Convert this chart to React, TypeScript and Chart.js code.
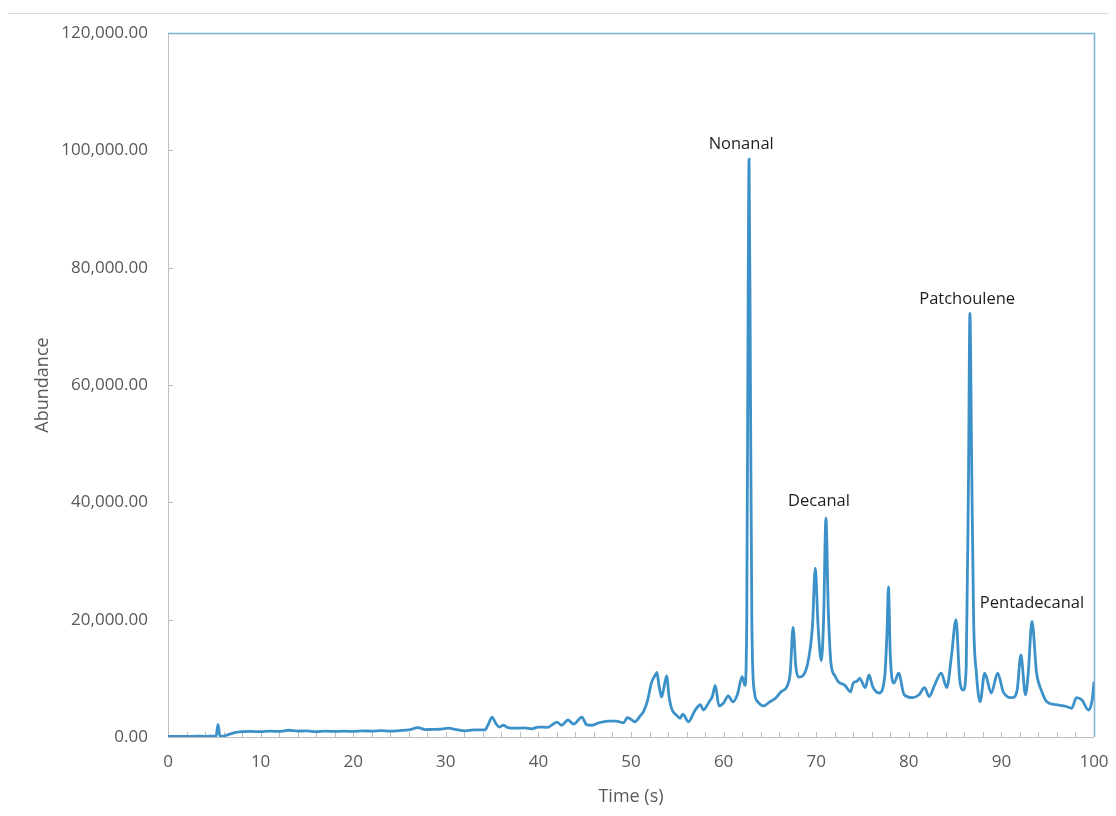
import React, { useEffect, useRef } from "react";
import { Chart, registerables } from "chart.js";

Chart.register(...registerables);

// Retention time (s)
const timeSeconds = [
  0, 1, 2, 3, 4, 5, 5.2, 5.4, 5.6, 6.0, 6.5, 7.0, 7.5, 8, 9, 10, 11, 12, 13, 14, 15, 16, 17, 18, 19, 20,
  21, 22, 23, 24, 25, 26, 27, 27.8, 28.5, 29.5, 30.3, 31, 32.1, 33, 34.2, 34.6, 35.0, 35.4, 35.8, 36.2,
  36.7, 37.5, 38.5, 39.3, 40, 41, 41.5, 42, 42.5, 43.2, 43.8, 44.7, 45.2, 45.8, 46.5, 47.5, 48.4, 49.2,
  49.6, 50.0, 50.4, 51.0, 51.4, 51.8, 52.2, 52.6, 52.8, 53.0, 53.3, 53.6, 53.85, 54.1, 54.4, 55.0, 55.3,
  55.6, 56.2, 56.9, 57.5, 57.8, 58.4, 58.8, 59.1, 59.5, 60.0, 60.5, 61.0, 61.5, 62.0, 62.3, 62.5, 62.65,
  62.75, 62.9, 63.05, 63.3, 63.7, 64.3, 65.0, 65.6, 66.2, 66.9, 67.2, 67.5, 67.8, 68.1, 68.6, 69.2, 69.6,
  69.9, 70.2, 70.55, 70.8, 71.05, 71.3, 71.6, 72.0, 72.4, 73.1, 73.7, 74.0, 74.4, 74.7, 75.3, 75.7, 76.1,
  76.8, 77.4, 77.65, 77.8, 78.0, 78.4, 78.9, 79.5, 80.4, 81.1, 81.7, 82.2, 82.8, 83.5, 84.1, 84.6, 85.1,
  85.5, 85.9, 86.2, 86.45, 86.6, 86.8, 87.0, 87.3, 87.7, 88.2, 88.9, 89.6, 90.2, 91.2, 91.7, 92.1, 92.6,
  92.9, 93.3, 93.8, 94.3, 94.9, 95.9, 97.0, 97.6, 98.1, 98.7, 99.4, 99.8, 100,
];

// Abundance
const abundance = [
  100, 120, 110, 130, 120, 150, 200, 2150, 200, 150, 400, 650, 850, 900, 950, 900, 1000, 950, 1150, 1000,
  1050, 900, 1000, 950, 1000, 950, 1050, 1000, 1100, 1000, 1100, 1200, 1600, 1250, 1300, 1350, 1500, 1300,
  1050, 1200, 1200, 2200, 3400, 2300, 1700, 2000, 1600, 1500, 1550, 1400, 1700, 1650, 2100, 2550, 2000,
  2900, 2200, 3400, 2100, 2000, 2400, 2700, 2700, 2400, 3300, 3000, 2600, 3600, 4500, 6300, 9200, 10500,
  11000, 9000, 6800, 8800, 10400, 7000, 4800, 3600, 3200, 3900, 2600, 4500, 5500, 4600, 5900, 7000, 8800,
  5300, 5800, 7000, 6000, 7300, 10300, 8800, 20000, 75000, 98500, 60000, 20000, 8000, 6000, 5300, 6000,
  6600, 7700, 8800, 11000, 18700, 12000, 10200, 10500, 13500, 19000, 28800, 19000, 13000, 20000, 37300,
  22000, 12500, 10500, 9400, 8800, 7700, 9200, 9500, 10000, 8400, 10600, 8600, 7500, 10300, 18000, 25600,
  14000, 9200, 10900, 7200, 6700, 7200, 8400, 6900, 8900, 10900, 8400, 13700, 20000, 9700, 8000, 12000,
  45000, 72200, 45000, 20000, 10900, 6000, 10900, 7500, 10900, 7700, 6700, 8000, 14000, 7200, 10900, 19700,
  10900, 8000, 6000, 5500, 5200, 4900, 6700, 6300, 4600, 6300, 9400,
];

const xTickStep = 10;
const xMinorStep = 2;
const yTickStep = 20000;
const yMax = 120000;
const xMax = 100;

const peakLabels = ["Nonanal", "Decanal", "Patchoulene", "Pentadecanal"];
const peakLabelTimes = [61.9, 70.3, 86.3, 93.3];
const peakLabelAbundance = [101000, 40200, 74600, 22800];

const decorPlugin = {
  id: "decor",
  beforeDatasetsDraw(chart: any) {
    const { ctx, chartArea: a, scales } = chart;
    const x = scales.x;
    const y = scales.y;
    ctx.save();
    ctx.lineWidth = 1;
    ctx.strokeStyle = "#bfbfbf";
    for (let t = 0; t <= xMax; t += xMinorStep) {
      const px = Math.round(x.getPixelForValue(t)) + 0.5;
      ctx.beginPath();
      ctx.moveTo(px, a.bottom);
      ctx.lineTo(px, a.bottom - 5);
      ctx.stroke();
    }
    for (let v = 0; v <= yMax; v += yTickStep) {
      const py = Math.round(y.getPixelForValue(v)) + 0.5;
      ctx.beginPath();
      ctx.moveTo(a.left, py);
      ctx.lineTo(a.left + 5, py);
      ctx.stroke();
    }
    ctx.beginPath();
    ctx.moveTo(Math.round(a.left) + 0.5, a.top);
    ctx.lineTo(Math.round(a.left) + 0.5, a.bottom);
    ctx.moveTo(a.left, Math.round(a.bottom) + 0.5);
    ctx.lineTo(a.right, Math.round(a.bottom) + 0.5);
    ctx.stroke();
    ctx.strokeStyle = "#78b0d6";
    ctx.lineWidth = 1.5;
    ctx.beginPath();
    ctx.moveTo(a.left, Math.round(a.top) + 0.5);
    ctx.lineTo(Math.round(a.right) + 0.5, Math.round(a.top) + 0.5);
    ctx.lineTo(Math.round(a.right) + 0.5, a.bottom);
    ctx.stroke();
    ctx.restore();
  },
  afterDatasetsDraw(chart: any) {
    const { ctx, scales } = chart;
    ctx.save();
    ctx.fillStyle = "#1f1f1f";
    ctx.font = "16.5px 'Open Sans'";
    ctx.textAlign = "center";
    ctx.textBaseline = "middle";
    peakLabels.forEach((label, i) => {
      ctx.fillText(
        label,
        scales.x.getPixelForValue(peakLabelTimes[i]),
        scales.y.getPixelForValue(peakLabelAbundance[i])
      );
    });
    ctx.restore();
  },
};

export default function App() {
  const canvasRef = useRef<HTMLCanvasElement | null>(null);

  useEffect(() => {
    if (!canvasRef.current) return;
    const chart = new Chart(canvasRef.current, {
      type: "line",
      data: {
        datasets: [
          {
            label: "Abundance",
            data: timeSeconds.map((t, i) => ({ x: t, y: abundance[i] })),
            borderColor: "#3d91c9",
            borderWidth: 2.8,
            pointRadius: 0,
            fill: false,
            cubicInterpolationMode: "monotone",
          },
        ],
      },
      options: {
        animation: false,
        responsive: false,
        layout: { padding: { top: 25, right: 14, left: 0, bottom: 0 } },
        plugins: {
          legend: { display: false },
          tooltip: { enabled: false },
        },
        scales: {
          x: {
            type: "linear",
            min: 0,
            max: xMax,
            grid: { display: false, drawTicks: false },
            border: { display: false },
            ticks: {
              stepSize: xTickStep,
              color: "#595959",
              font: { family: "'Open Sans'", size: 17 },
              padding: 15,
              maxRotation: 0,
              autoSkip: false,
            },
            title: {
              display: true,
              text: "Time (s)",
              color: "#595959",
              font: { family: "'Open Sans'", size: 18 },
              padding: { top: 0, bottom: 0 },
            },
            afterFit: (s: any) => {
              s.height = 71;
              s.paddingLeft = 0;
              s.paddingRight = 0;
            },
          },
          y: {
            min: 0,
            max: yMax,
            grid: { display: false, drawTicks: false },
            border: { display: false },
            ticks: {
              stepSize: yTickStep,
              color: "#595959",
              font: { family: "'Open Sans'", size: 17 },
              padding: 20,
              callback: (v: any) =>
                Number(v).toLocaleString("en-US", {
                  minimumFractionDigits: 2,
                  maximumFractionDigits: 2,
                }),
            },
            title: {
              display: true,
              text: "Abundance",
              color: "#595959",
              font: { family: "'Open Sans'", size: 18 },
              padding: { top: 24, bottom: 0 },
            },
            afterFit: (s: any) => {
              s.width = 160;
              s.paddingTop = 0;
              s.paddingBottom = 0;
            },
          },
        },
      },
      plugins: [decorPlugin],
    });
    return () => chart.destroy();
  }, []);

  return (
    <div style={{ position: "relative", width: 1100, height: 800, background: "#fff" }}>
      <div
        style={{
          position: "absolute",
          top: 5,
          left: 0,
          width: 1100,
          height: 1,
          background: "#d9d9d9",
        }}
      />
      <canvas ref={canvasRef} width={1100} height={800} style={{ display: "block" }} />
    </div>
  );
}
